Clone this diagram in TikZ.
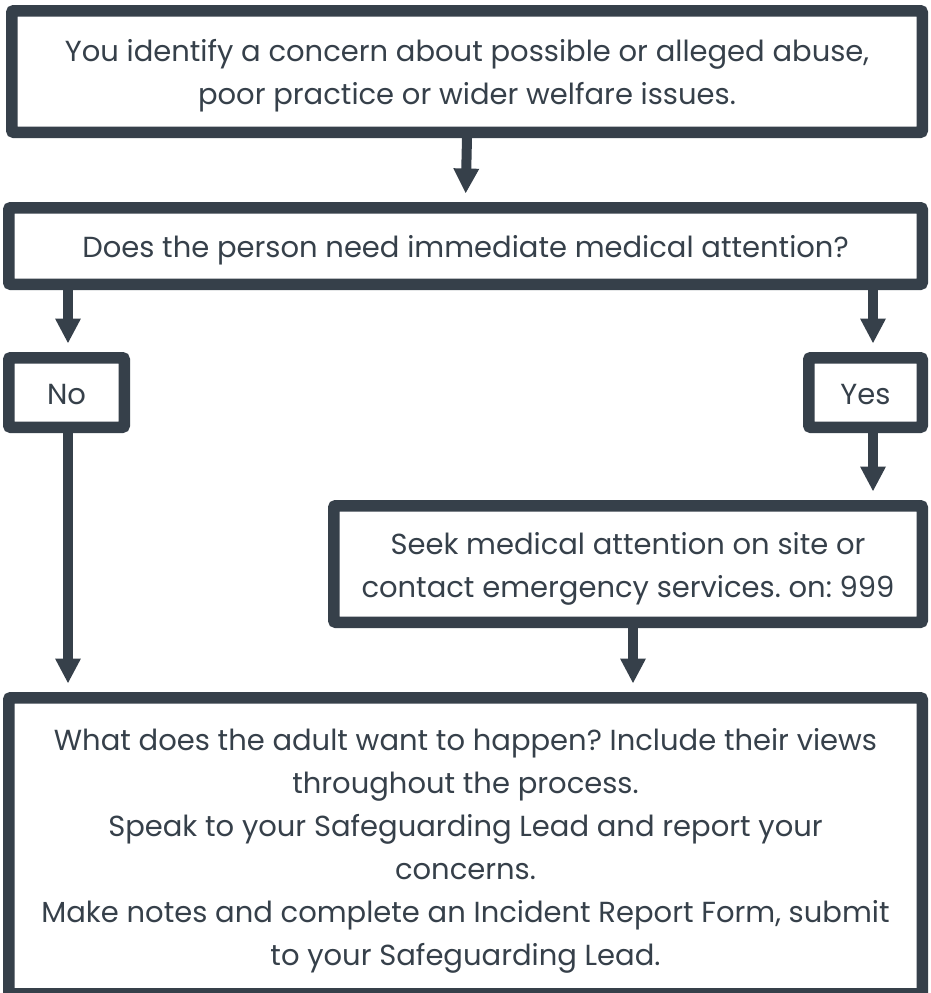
\documentclass[tikz,border=0pt]{standalone}
\usepackage{fontspec}
\setmainfont{Poppins}
\usetikzlibrary{arrows.meta,positioning}

\definecolor{inkgray}{HTML}{36404A}
\newcommand\boxstrut{\rule[-7pt]{0pt}{38.5pt}}

\begin{document}
\frenchspacing
\begin{tikzpicture}[x=1pt,y=-1pt]
      \useasboundingbox[fill=white] (0,0) rectangle (930,993);
      \begin{scope}[every node/.style={rectangle,draw=inkgray,line width=11.5pt,
          rounded corners=2pt,fill=white,text=inkgray,inner sep=0pt,align=center,
          font=\fontsize{29}{43}\selectfont}]
        \node (concern) [minimum width=910.5pt,minimum height=121.5pt] at (467,71.5)
          {\boxstrut You identify a concern about possible or alleged abuse,\\poor practice or wider welfare issues.};
        \node (medical) [minimum width=913.5pt,minimum height=76.5pt] at (465.5,246)
          {\boxstrut Does the person need immediate medical attention?};
        \node (no) [minimum width=115.5pt,minimum height=69.5pt] at (66.5,392.5) {\boxstrut No};
        \node (yes) [minimum width=113.5pt,minimum height=69.5pt] at (865.5,392.5) {\boxstrut Yes};
        \node (seek) [minimum width=588.5pt,minimum height=116.5pt] at (628,564)
          {\boxstrut Seek medical attention on site or\\contact emergency services. on: 999};
        \node (act) [minimum width=913.5pt,minimum height=296pt] at (465.5,845.75)
          {\boxstrut What does the adult want to happen? Include their views\\throughout the process.\\
           Speak to your Safeguarding Lead and report your\\concerns.\\
           Make notes and complete an Incident Report Form, submit\\to your Safeguarding Lead.};
      \end{scope}
      \coordinate (lcol) at (68,0);
      \coordinate (rcol) at (873,0);
      \coordinate (mcol) at (633,0);
      \begin{scope}
        [every edge/.style={draw=inkgray,line width=10pt,
        -{Triangle[width=24pt,length=25pt]},shorten >=8.5pt}]
        \path (concern.south) edge (medical.north);
        \path (medical.south -| lcol) edge (no.north -| lcol);
        \path (medical.south -| rcol) edge (yes.north -| rcol);
        \path (yes.south -| rcol) edge (seek.north -| rcol);
        \path (no.south -| lcol) edge (act.north -| lcol);
        \path (seek.south -| mcol) edge (act.north -| mcol);
      \end{scope}
    \end{tikzpicture}
\end{document}
